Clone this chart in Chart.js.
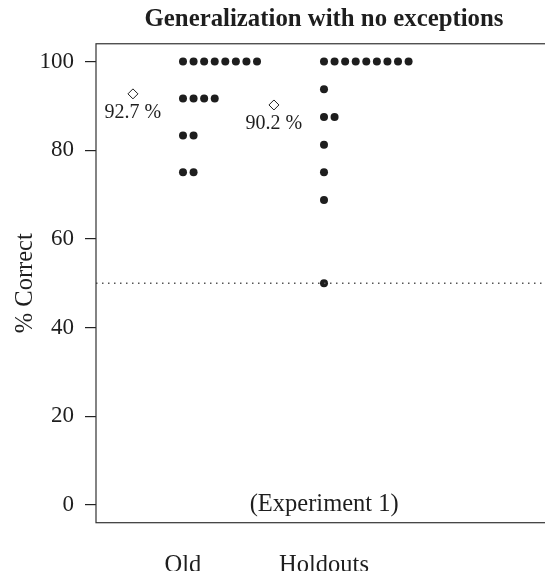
<!DOCTYPE html>
<html>
<head>
<meta charset="utf-8">
<script src="https://cdn.jsdelivr.net/npm/chart.js@4.4.1/dist/chart.umd.min.js"></script>
<style>
  html, body { margin: 0; padding: 0; background: #fff; overflow: hidden; }
  canvas { display: block; }
</style>
</head>
<body>
<canvas id="dotChart" width="648" height="571"></canvas>
<script>
const groups = ['Old', 'Holdouts'];
// one score per participant, % correct
const oldScores = [100, 100, 100, 100, 100, 100, 100, 100,
  91.67, 91.67, 91.67, 91.67, 83.33, 83.33, 75, 75];
const holdoutScores = [100, 100, 100, 100, 100, 100, 100, 100, 100,
  93.75, 87.5, 87.5, 81.25, 75, 68.75, 50];
const means = [92.7, 90.2];
const yTicks = [0, 20, 40, 60, 80, 100];
const chanceLevel = 50;

const dotStep = 0.075;   // sideways step between stacked equal scores
const meanShift = 0.355; // mean marker sits left of its group
const xMin = 0.383, xMax = 4.298;
const frameRight = 3.62; // frame's right side, in x units
const serif = "'Liberation Serif', 'Times New Roman', serif";
const ink = '#1e1e1e';

// stack repeated scores side by side, like stripchart(method = "stack")
function stackDots(scores, g) {
  const seen = {};
  return scores.map(v => {
    const k = seen[v] || 0;
    seen[v] = k + 1;
    return { x: g + k * dotStep, y: v };
  });
}

const boxAndNotes = {
  id: 'boxAndNotes',
  afterDatasetsDraw(chart) {
    const { ctx, chartArea: a, scales: { x, y } } = chart;
    ctx.save();
    ctx.strokeStyle = '#333';
    ctx.lineWidth = 1.2;
    const right = x.getPixelForValue(frameRight);
    ctx.strokeRect(a.left, a.top, right - a.left, a.bottom - a.top);

    ctx.fillStyle = ink;
    ctx.font = '20px ' + serif;
    ctx.textAlign = 'center';
    ctx.textBaseline = 'middle';
    means.forEach((m, i) => {
      const px = x.getPixelForValue(i + 1 - meanShift);
      const py = y.getPixelForValue(m);
      ctx.fillText(m.toFixed(1) + ' %', px, py + 19);
    });
    ctx.font = '24.5px ' + serif;
    ctx.fillText('(Experiment 1)', (a.left + right) / 2, a.bottom - 18);
    ctx.restore();
  }
};

new Chart(document.getElementById('dotChart'), {
  type: 'scatter',
  data: {
    datasets: [
      {
        type: 'line',
        data: [{ x: xMin, y: chanceLevel }, { x: frameRight, y: chanceLevel }],
        borderColor: '#555',
        borderWidth: 1.3,
        borderDash: [1.5, 4.5],
        pointRadius: 0
      },
      {
        data: stackDots(oldScores, 1),
        pointRadius: 4,
        backgroundColor: ink,
        borderColor: ink,
        borderWidth: 0
      },
      {
        data: stackDots(holdoutScores, 2),
        pointRadius: 4,
        backgroundColor: ink,
        borderColor: ink,
        borderWidth: 0
      },
      {
        data: means.map((m, i) => ({ x: i + 1 - meanShift, y: m })),
        pointStyle: 'rectRot',
        pointRadius: 5,
        backgroundColor: '#fff',
        borderColor: ink,
        borderWidth: 1
      }
    ]
  },
  options: {
    responsive: false,
    animation: false,
    layout: { padding: 0, autoPadding: false },
    plugins: {
      legend: { display: false },
      tooltip: { enabled: false },
      title: {
        display: true,
        text: 'Generalization with no exceptions',
        color: ink,
        font: { family: serif, size: 24.8, weight: 'bold' },
        padding: { top: 5, bottom: 9 }
      }
    },
    scales: {
      x: {
        type: 'linear',
        min: xMin,
        max: xMax,
        border: { display: false },
        grid: { display: false, drawTicks: false },
        afterBuildTicks: s => { s.ticks = groups.map((g, i) => ({ value: i + 1 })); },
        ticks: {
          color: ink,
          font: { family: serif, size: 24.5 },
          padding: 28,
          callback: v => groups[v - 1]
        },
        afterFit: s => { s.height = 48.3; }
      },
      y: {
        min: -4,
        max: 104,
        border: { display: false },
        grid: { drawOnChartArea: false, drawTicks: true, tickLength: 11, color: '#222', lineWidth: 1.2 },
        afterBuildTicks: s => { s.ticks = yTicks.map(v => ({ value: v })); },
        ticks: {
          color: ink,
          font: { family: serif, size: 23 },
          padding: 11
        },
        title: {
          display: true,
          text: '% Correct',
          color: ink,
          font: { family: serif, size: 24.5 },
          padding: { top: 11, bottom: 0 }
        },
        afterFit: s => { s.width = 96; }
      }
    }
  },
  plugins: [boxAndNotes]
});
</script>
</body>
</html>
